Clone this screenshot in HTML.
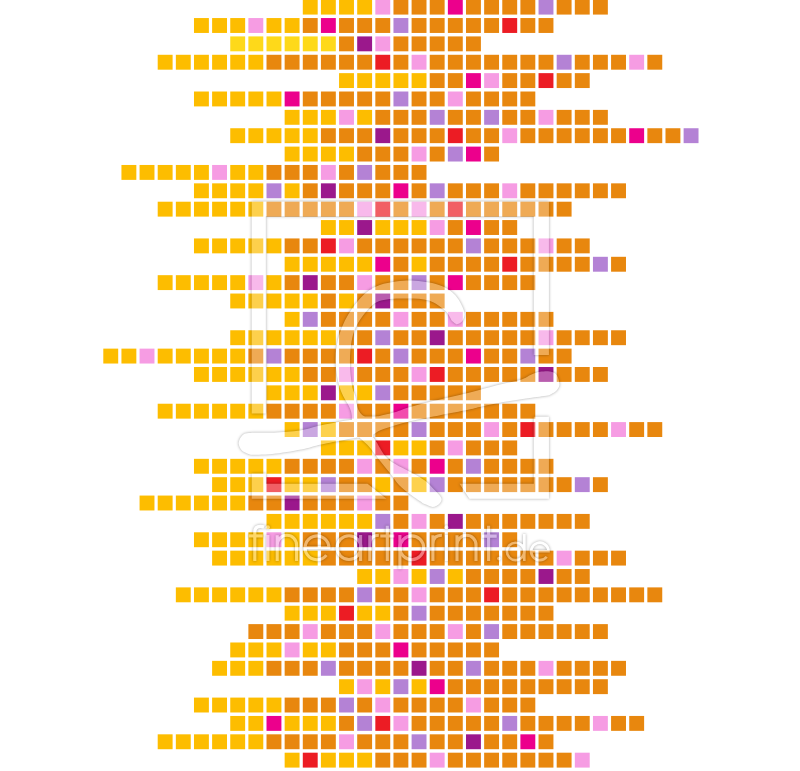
<!DOCTYPE html>
<html><head><meta charset="utf-8"><style>
html,body{margin:0;padding:0;background:#fff;width:800px;height:771px;overflow:hidden;font-family:"Liberation Sans",sans-serif;}
svg{display:block}
</style></head><body>
<svg width="800" height="771" viewBox="0 0 800 771">
<rect width="800" height="771" fill="#fff"/>
<rect x="302.79" y="-0.32" width="14.9" height="14.9" fill="#FDBD00"/>
<rect x="320.92" y="-0.32" width="14.9" height="14.9" fill="#FDBD00"/>
<rect x="339.06" y="-0.32" width="14.9" height="14.9" fill="#FDBD00"/>
<rect x="357.19" y="-0.32" width="14.9" height="14.9" fill="#FDBD00"/>
<rect x="375.33" y="-0.32" width="14.9" height="14.9" fill="#F69CE3"/>
<rect x="393.46" y="-0.32" width="14.9" height="14.9" fill="#E8870E"/>
<rect x="411.60" y="-0.32" width="14.9" height="14.9" fill="#E8870E"/>
<rect x="429.73" y="-0.32" width="14.9" height="14.9" fill="#E8870E"/>
<rect x="447.87" y="-0.32" width="14.9" height="14.9" fill="#EC008C"/>
<rect x="466.00" y="-0.32" width="14.9" height="14.9" fill="#E8870E"/>
<rect x="484.14" y="-0.32" width="14.9" height="14.9" fill="#E8870E"/>
<rect x="502.27" y="-0.32" width="14.9" height="14.9" fill="#E8870E"/>
<rect x="520.40" y="-0.32" width="14.9" height="14.9" fill="#E8870E"/>
<rect x="538.54" y="-0.32" width="14.9" height="14.9" fill="#B482D5"/>
<rect x="556.68" y="-0.32" width="14.9" height="14.9" fill="#E8870E"/>
<rect x="574.81" y="-0.32" width="14.9" height="14.9" fill="#E8870E"/>
<rect x="592.95" y="-0.32" width="14.9" height="14.9" fill="#E8870E"/>
<rect x="193.98" y="18.05" width="14.9" height="14.9" fill="#FDBD00"/>
<rect x="212.11" y="18.05" width="14.9" height="14.9" fill="#FDBD00"/>
<rect x="230.25" y="18.05" width="14.9" height="14.9" fill="#FDBD00"/>
<rect x="248.38" y="18.05" width="14.9" height="14.9" fill="#F69CE3"/>
<rect x="266.51" y="18.05" width="14.9" height="14.9" fill="#FDBD00"/>
<rect x="284.65" y="18.05" width="14.9" height="14.9" fill="#FDBD00"/>
<rect x="302.79" y="18.05" width="14.9" height="14.9" fill="#E8870E"/>
<rect x="320.92" y="18.05" width="14.9" height="14.9" fill="#EC008C"/>
<rect x="339.06" y="18.05" width="14.9" height="14.9" fill="#E8870E"/>
<rect x="357.19" y="18.05" width="14.9" height="14.9" fill="#E8870E"/>
<rect x="375.33" y="18.05" width="14.9" height="14.9" fill="#E8870E"/>
<rect x="393.46" y="18.05" width="14.9" height="14.9" fill="#B482D5"/>
<rect x="411.60" y="18.05" width="14.9" height="14.9" fill="#E8870E"/>
<rect x="429.73" y="18.05" width="14.9" height="14.9" fill="#E8870E"/>
<rect x="447.87" y="18.05" width="14.9" height="14.9" fill="#E8870E"/>
<rect x="466.00" y="18.05" width="14.9" height="14.9" fill="#E8870E"/>
<rect x="484.14" y="18.05" width="14.9" height="14.9" fill="#E8870E"/>
<rect x="502.27" y="18.05" width="14.9" height="14.9" fill="#EC1C24"/>
<rect x="520.40" y="18.05" width="14.9" height="14.9" fill="#E8870E"/>
<rect x="538.54" y="18.05" width="14.9" height="14.9" fill="#E8870E"/>
<rect x="230.25" y="36.41" width="14.9" height="14.9" fill="#FED91A"/>
<rect x="248.38" y="36.41" width="14.9" height="14.9" fill="#FED91A"/>
<rect x="266.51" y="36.41" width="14.9" height="14.9" fill="#FED91A"/>
<rect x="284.65" y="36.41" width="14.9" height="14.9" fill="#FED91A"/>
<rect x="302.79" y="36.41" width="14.9" height="14.9" fill="#FED91A"/>
<rect x="320.92" y="36.41" width="14.9" height="14.9" fill="#FED91A"/>
<rect x="339.06" y="36.41" width="14.9" height="14.9" fill="#E8870E"/>
<rect x="357.19" y="36.41" width="14.9" height="14.9" fill="#9B188C"/>
<rect x="375.33" y="36.41" width="14.9" height="14.9" fill="#F69CE3"/>
<rect x="393.46" y="36.41" width="14.9" height="14.9" fill="#E8870E"/>
<rect x="411.60" y="36.41" width="14.9" height="14.9" fill="#E8870E"/>
<rect x="429.73" y="36.41" width="14.9" height="14.9" fill="#E8870E"/>
<rect x="447.87" y="36.41" width="14.9" height="14.9" fill="#E8870E"/>
<rect x="466.00" y="36.41" width="14.9" height="14.9" fill="#E8870E"/>
<rect x="157.70" y="54.78" width="14.9" height="14.9" fill="#FDBD00"/>
<rect x="175.84" y="54.78" width="14.9" height="14.9" fill="#FDBD00"/>
<rect x="193.98" y="54.78" width="14.9" height="14.9" fill="#FDBD00"/>
<rect x="212.11" y="54.78" width="14.9" height="14.9" fill="#FDBD00"/>
<rect x="230.25" y="54.78" width="14.9" height="14.9" fill="#FDBD00"/>
<rect x="248.38" y="54.78" width="14.9" height="14.9" fill="#FDBD00"/>
<rect x="266.51" y="54.78" width="14.9" height="14.9" fill="#E8870E"/>
<rect x="284.65" y="54.78" width="14.9" height="14.9" fill="#E8870E"/>
<rect x="302.79" y="54.78" width="14.9" height="14.9" fill="#E8870E"/>
<rect x="320.92" y="54.78" width="14.9" height="14.9" fill="#E8870E"/>
<rect x="339.06" y="54.78" width="14.9" height="14.9" fill="#E8870E"/>
<rect x="357.19" y="54.78" width="14.9" height="14.9" fill="#E8870E"/>
<rect x="375.33" y="54.78" width="14.9" height="14.9" fill="#EC1C24"/>
<rect x="393.46" y="54.78" width="14.9" height="14.9" fill="#E8870E"/>
<rect x="411.60" y="54.78" width="14.9" height="14.9" fill="#F69CE3"/>
<rect x="429.73" y="54.78" width="14.9" height="14.9" fill="#E8870E"/>
<rect x="447.87" y="54.78" width="14.9" height="14.9" fill="#E8870E"/>
<rect x="466.00" y="54.78" width="14.9" height="14.9" fill="#E8870E"/>
<rect x="484.14" y="54.78" width="14.9" height="14.9" fill="#E8870E"/>
<rect x="502.27" y="54.78" width="14.9" height="14.9" fill="#E8870E"/>
<rect x="520.40" y="54.78" width="14.9" height="14.9" fill="#E8870E"/>
<rect x="538.54" y="54.78" width="14.9" height="14.9" fill="#E8870E"/>
<rect x="556.68" y="54.78" width="14.9" height="14.9" fill="#B482D5"/>
<rect x="574.81" y="54.78" width="14.9" height="14.9" fill="#E8870E"/>
<rect x="592.95" y="54.78" width="14.9" height="14.9" fill="#E8870E"/>
<rect x="611.08" y="54.78" width="14.9" height="14.9" fill="#E8870E"/>
<rect x="629.22" y="54.78" width="14.9" height="14.9" fill="#F69CE3"/>
<rect x="647.35" y="54.78" width="14.9" height="14.9" fill="#E8870E"/>
<rect x="339.06" y="73.14" width="14.9" height="14.9" fill="#FDBD00"/>
<rect x="357.19" y="73.14" width="14.9" height="14.9" fill="#FDBD00"/>
<rect x="375.33" y="73.14" width="14.9" height="14.9" fill="#FDBD00"/>
<rect x="393.46" y="73.14" width="14.9" height="14.9" fill="#FDBD00"/>
<rect x="411.60" y="73.14" width="14.9" height="14.9" fill="#FDBD00"/>
<rect x="429.73" y="73.14" width="14.9" height="14.9" fill="#E8870E"/>
<rect x="447.87" y="73.14" width="14.9" height="14.9" fill="#E8870E"/>
<rect x="466.00" y="73.14" width="14.9" height="14.9" fill="#EC008C"/>
<rect x="484.14" y="73.14" width="14.9" height="14.9" fill="#F69CE3"/>
<rect x="502.27" y="73.14" width="14.9" height="14.9" fill="#E8870E"/>
<rect x="520.40" y="73.14" width="14.9" height="14.9" fill="#E8870E"/>
<rect x="538.54" y="73.14" width="14.9" height="14.9" fill="#EC1C24"/>
<rect x="556.68" y="73.14" width="14.9" height="14.9" fill="#E8870E"/>
<rect x="574.81" y="73.14" width="14.9" height="14.9" fill="#E8870E"/>
<rect x="193.98" y="91.51" width="14.9" height="14.9" fill="#FDBD00"/>
<rect x="212.11" y="91.51" width="14.9" height="14.9" fill="#FDBD00"/>
<rect x="230.25" y="91.51" width="14.9" height="14.9" fill="#FDBD00"/>
<rect x="248.38" y="91.51" width="14.9" height="14.9" fill="#FDBD00"/>
<rect x="266.51" y="91.51" width="14.9" height="14.9" fill="#FDBD00"/>
<rect x="284.65" y="91.51" width="14.9" height="14.9" fill="#EC008C"/>
<rect x="302.79" y="91.51" width="14.9" height="14.9" fill="#E8870E"/>
<rect x="320.92" y="91.51" width="14.9" height="14.9" fill="#E8870E"/>
<rect x="339.06" y="91.51" width="14.9" height="14.9" fill="#E8870E"/>
<rect x="357.19" y="91.51" width="14.9" height="14.9" fill="#E8870E"/>
<rect x="375.33" y="91.51" width="14.9" height="14.9" fill="#E8870E"/>
<rect x="393.46" y="91.51" width="14.9" height="14.9" fill="#B482D5"/>
<rect x="411.60" y="91.51" width="14.9" height="14.9" fill="#E8870E"/>
<rect x="429.73" y="91.51" width="14.9" height="14.9" fill="#E8870E"/>
<rect x="447.87" y="91.51" width="14.9" height="14.9" fill="#F69CE3"/>
<rect x="466.00" y="91.51" width="14.9" height="14.9" fill="#E8870E"/>
<rect x="484.14" y="91.51" width="14.9" height="14.9" fill="#E8870E"/>
<rect x="502.27" y="91.51" width="14.9" height="14.9" fill="#E8870E"/>
<rect x="520.40" y="91.51" width="14.9" height="14.9" fill="#E8870E"/>
<rect x="284.65" y="109.88" width="14.9" height="14.9" fill="#FDBD00"/>
<rect x="302.79" y="109.88" width="14.9" height="14.9" fill="#FDBD00"/>
<rect x="320.92" y="109.88" width="14.9" height="14.9" fill="#FDBD00"/>
<rect x="339.06" y="109.88" width="14.9" height="14.9" fill="#F69CE3"/>
<rect x="357.19" y="109.88" width="14.9" height="14.9" fill="#FDBD00"/>
<rect x="375.33" y="109.88" width="14.9" height="14.9" fill="#E8870E"/>
<rect x="393.46" y="109.88" width="14.9" height="14.9" fill="#E8870E"/>
<rect x="411.60" y="109.88" width="14.9" height="14.9" fill="#E8870E"/>
<rect x="429.73" y="109.88" width="14.9" height="14.9" fill="#B482D5"/>
<rect x="447.87" y="109.88" width="14.9" height="14.9" fill="#E8870E"/>
<rect x="466.00" y="109.88" width="14.9" height="14.9" fill="#E8870E"/>
<rect x="484.14" y="109.88" width="14.9" height="14.9" fill="#B482D5"/>
<rect x="502.27" y="109.88" width="14.9" height="14.9" fill="#E8870E"/>
<rect x="520.40" y="109.88" width="14.9" height="14.9" fill="#E8870E"/>
<rect x="538.54" y="109.88" width="14.9" height="14.9" fill="#F69CE3"/>
<rect x="556.68" y="109.88" width="14.9" height="14.9" fill="#E8870E"/>
<rect x="574.81" y="109.88" width="14.9" height="14.9" fill="#E8870E"/>
<rect x="592.95" y="109.88" width="14.9" height="14.9" fill="#E8870E"/>
<rect x="230.25" y="128.24" width="14.9" height="14.9" fill="#FDBD00"/>
<rect x="248.38" y="128.24" width="14.9" height="14.9" fill="#FDBD00"/>
<rect x="266.51" y="128.24" width="14.9" height="14.9" fill="#FDBD00"/>
<rect x="284.65" y="128.24" width="14.9" height="14.9" fill="#FDBD00"/>
<rect x="302.79" y="128.24" width="14.9" height="14.9" fill="#FDBD00"/>
<rect x="320.92" y="128.24" width="14.9" height="14.9" fill="#E8870E"/>
<rect x="339.06" y="128.24" width="14.9" height="14.9" fill="#E8870E"/>
<rect x="357.19" y="128.24" width="14.9" height="14.9" fill="#E8870E"/>
<rect x="375.33" y="128.24" width="14.9" height="14.9" fill="#9B188C"/>
<rect x="393.46" y="128.24" width="14.9" height="14.9" fill="#E8870E"/>
<rect x="411.60" y="128.24" width="14.9" height="14.9" fill="#E8870E"/>
<rect x="429.73" y="128.24" width="14.9" height="14.9" fill="#E8870E"/>
<rect x="447.87" y="128.24" width="14.9" height="14.9" fill="#EC1C24"/>
<rect x="466.00" y="128.24" width="14.9" height="14.9" fill="#E8870E"/>
<rect x="484.14" y="128.24" width="14.9" height="14.9" fill="#E8870E"/>
<rect x="502.27" y="128.24" width="14.9" height="14.9" fill="#F69CE3"/>
<rect x="520.40" y="128.24" width="14.9" height="14.9" fill="#E8870E"/>
<rect x="538.54" y="128.24" width="14.9" height="14.9" fill="#E8870E"/>
<rect x="556.68" y="128.24" width="14.9" height="14.9" fill="#E8870E"/>
<rect x="574.81" y="128.24" width="14.9" height="14.9" fill="#E8870E"/>
<rect x="592.95" y="128.24" width="14.9" height="14.9" fill="#E8870E"/>
<rect x="611.08" y="128.24" width="14.9" height="14.9" fill="#E8870E"/>
<rect x="629.22" y="128.24" width="14.9" height="14.9" fill="#EC008C"/>
<rect x="647.35" y="128.24" width="14.9" height="14.9" fill="#E8870E"/>
<rect x="665.49" y="128.24" width="14.9" height="14.9" fill="#E8870E"/>
<rect x="683.62" y="128.24" width="14.9" height="14.9" fill="#B482D5"/>
<rect x="284.65" y="146.61" width="14.9" height="14.9" fill="#FDBD00"/>
<rect x="302.79" y="146.61" width="14.9" height="14.9" fill="#FDBD00"/>
<rect x="320.92" y="146.61" width="14.9" height="14.9" fill="#FDBD00"/>
<rect x="339.06" y="146.61" width="14.9" height="14.9" fill="#FDBD00"/>
<rect x="357.19" y="146.61" width="14.9" height="14.9" fill="#E8870E"/>
<rect x="375.33" y="146.61" width="14.9" height="14.9" fill="#E8870E"/>
<rect x="393.46" y="146.61" width="14.9" height="14.9" fill="#E8870E"/>
<rect x="411.60" y="146.61" width="14.9" height="14.9" fill="#F69CE3"/>
<rect x="429.73" y="146.61" width="14.9" height="14.9" fill="#E8870E"/>
<rect x="447.87" y="146.61" width="14.9" height="14.9" fill="#B482D5"/>
<rect x="466.00" y="146.61" width="14.9" height="14.9" fill="#EC008C"/>
<rect x="484.14" y="146.61" width="14.9" height="14.9" fill="#E8870E"/>
<rect x="121.44" y="164.97" width="14.9" height="14.9" fill="#FDBD00"/>
<rect x="139.57" y="164.97" width="14.9" height="14.9" fill="#FDBD00"/>
<rect x="157.70" y="164.97" width="14.9" height="14.9" fill="#FDBD00"/>
<rect x="175.84" y="164.97" width="14.9" height="14.9" fill="#FDBD00"/>
<rect x="193.98" y="164.97" width="14.9" height="14.9" fill="#FDBD00"/>
<rect x="212.11" y="164.97" width="14.9" height="14.9" fill="#F69CE3"/>
<rect x="230.25" y="164.97" width="14.9" height="14.9" fill="#FDBD00"/>
<rect x="248.38" y="164.97" width="14.9" height="14.9" fill="#FDBD00"/>
<rect x="266.51" y="164.97" width="14.9" height="14.9" fill="#E8870E"/>
<rect x="284.65" y="164.97" width="14.9" height="14.9" fill="#E8870E"/>
<rect x="302.79" y="164.97" width="14.9" height="14.9" fill="#E8870E"/>
<rect x="320.92" y="164.97" width="14.9" height="14.9" fill="#F69CE3"/>
<rect x="339.06" y="164.97" width="14.9" height="14.9" fill="#E8870E"/>
<rect x="357.19" y="164.97" width="14.9" height="14.9" fill="#B482D5"/>
<rect x="375.33" y="164.97" width="14.9" height="14.9" fill="#E8870E"/>
<rect x="393.46" y="164.97" width="14.9" height="14.9" fill="#E8870E"/>
<rect x="411.60" y="164.97" width="14.9" height="14.9" fill="#E8870E"/>
<rect x="193.98" y="183.34" width="14.9" height="14.9" fill="#FDBD00"/>
<rect x="212.11" y="183.34" width="14.9" height="14.9" fill="#FDBD00"/>
<rect x="230.25" y="183.34" width="14.9" height="14.9" fill="#FDBD00"/>
<rect x="248.38" y="183.34" width="14.9" height="14.9" fill="#FDBD00"/>
<rect x="266.51" y="183.34" width="14.9" height="14.9" fill="#B482D5"/>
<rect x="284.65" y="183.34" width="14.9" height="14.9" fill="#FDBD00"/>
<rect x="302.79" y="183.34" width="14.9" height="14.9" fill="#E8870E"/>
<rect x="320.92" y="183.34" width="14.9" height="14.9" fill="#9B188C"/>
<rect x="339.06" y="183.34" width="14.9" height="14.9" fill="#E8870E"/>
<rect x="357.19" y="183.34" width="14.9" height="14.9" fill="#E8870E"/>
<rect x="375.33" y="183.34" width="14.9" height="14.9" fill="#E8870E"/>
<rect x="393.46" y="183.34" width="14.9" height="14.9" fill="#EC008C"/>
<rect x="411.60" y="183.34" width="14.9" height="14.9" fill="#E8870E"/>
<rect x="429.73" y="183.34" width="14.9" height="14.9" fill="#B482D5"/>
<rect x="447.87" y="183.34" width="14.9" height="14.9" fill="#E8870E"/>
<rect x="466.00" y="183.34" width="14.9" height="14.9" fill="#E8870E"/>
<rect x="484.14" y="183.34" width="14.9" height="14.9" fill="#E8870E"/>
<rect x="502.27" y="183.34" width="14.9" height="14.9" fill="#F69CE3"/>
<rect x="520.40" y="183.34" width="14.9" height="14.9" fill="#E8870E"/>
<rect x="538.54" y="183.34" width="14.9" height="14.9" fill="#E8870E"/>
<rect x="556.68" y="183.34" width="14.9" height="14.9" fill="#E8870E"/>
<rect x="574.81" y="183.34" width="14.9" height="14.9" fill="#E8870E"/>
<rect x="592.95" y="183.34" width="14.9" height="14.9" fill="#E8870E"/>
<rect x="611.08" y="183.34" width="14.9" height="14.9" fill="#E8870E"/>
<rect x="157.70" y="201.71" width="14.9" height="14.9" fill="#FDBD00"/>
<rect x="175.84" y="201.71" width="14.9" height="14.9" fill="#FDBD00"/>
<rect x="193.98" y="201.71" width="14.9" height="14.9" fill="#FDBD00"/>
<rect x="212.11" y="201.71" width="14.9" height="14.9" fill="#FDBD00"/>
<rect x="230.25" y="201.71" width="14.9" height="14.9" fill="#FDBD00"/>
<rect x="248.38" y="201.71" width="14.9" height="14.9" fill="#FDBD00"/>
<rect x="266.51" y="201.71" width="14.9" height="14.9" fill="#E8870E"/>
<rect x="284.65" y="201.71" width="14.9" height="14.9" fill="#E8870E"/>
<rect x="302.79" y="201.71" width="14.9" height="14.9" fill="#E8870E"/>
<rect x="320.92" y="201.71" width="14.9" height="14.9" fill="#E8870E"/>
<rect x="339.06" y="201.71" width="14.9" height="14.9" fill="#E8870E"/>
<rect x="357.19" y="201.71" width="14.9" height="14.9" fill="#F69CE3"/>
<rect x="375.33" y="201.71" width="14.9" height="14.9" fill="#EC1C24"/>
<rect x="393.46" y="201.71" width="14.9" height="14.9" fill="#E8870E"/>
<rect x="411.60" y="201.71" width="14.9" height="14.9" fill="#F69CE3"/>
<rect x="429.73" y="201.71" width="14.9" height="14.9" fill="#E8870E"/>
<rect x="447.87" y="201.71" width="14.9" height="14.9" fill="#EC1C24"/>
<rect x="466.00" y="201.71" width="14.9" height="14.9" fill="#E8870E"/>
<rect x="484.14" y="201.71" width="14.9" height="14.9" fill="#E8870E"/>
<rect x="502.27" y="201.71" width="14.9" height="14.9" fill="#E8870E"/>
<rect x="520.40" y="201.71" width="14.9" height="14.9" fill="#E8870E"/>
<rect x="538.54" y="201.71" width="14.9" height="14.9" fill="#E8870E"/>
<rect x="556.68" y="201.71" width="14.9" height="14.9" fill="#E8870E"/>
<rect x="320.92" y="220.07" width="14.9" height="14.9" fill="#FDBD00"/>
<rect x="339.06" y="220.07" width="14.9" height="14.9" fill="#FDBD00"/>
<rect x="357.19" y="220.07" width="14.9" height="14.9" fill="#9B188C"/>
<rect x="375.33" y="220.07" width="14.9" height="14.9" fill="#FDBD00"/>
<rect x="393.46" y="220.07" width="14.9" height="14.9" fill="#FDBD00"/>
<rect x="411.60" y="220.07" width="14.9" height="14.9" fill="#FDBD00"/>
<rect x="429.73" y="220.07" width="14.9" height="14.9" fill="#F69CE3"/>
<rect x="447.87" y="220.07" width="14.9" height="14.9" fill="#E8870E"/>
<rect x="466.00" y="220.07" width="14.9" height="14.9" fill="#EC008C"/>
<rect x="484.14" y="220.07" width="14.9" height="14.9" fill="#E8870E"/>
<rect x="502.27" y="220.07" width="14.9" height="14.9" fill="#E8870E"/>
<rect x="193.98" y="238.44" width="14.9" height="14.9" fill="#FDBD00"/>
<rect x="212.11" y="238.44" width="14.9" height="14.9" fill="#FDBD00"/>
<rect x="230.25" y="238.44" width="14.9" height="14.9" fill="#FDBD00"/>
<rect x="248.38" y="238.44" width="14.9" height="14.9" fill="#FDBD00"/>
<rect x="266.51" y="238.44" width="14.9" height="14.9" fill="#FDBD00"/>
<rect x="284.65" y="238.44" width="14.9" height="14.9" fill="#E8870E"/>
<rect x="302.79" y="238.44" width="14.9" height="14.9" fill="#E8870E"/>
<rect x="320.92" y="238.44" width="14.9" height="14.9" fill="#EC1C24"/>
<rect x="339.06" y="238.44" width="14.9" height="14.9" fill="#F69CE3"/>
<rect x="357.19" y="238.44" width="14.9" height="14.9" fill="#E8870E"/>
<rect x="375.33" y="238.44" width="14.9" height="14.9" fill="#E8870E"/>
<rect x="393.46" y="238.44" width="14.9" height="14.9" fill="#E8870E"/>
<rect x="411.60" y="238.44" width="14.9" height="14.9" fill="#E8870E"/>
<rect x="429.73" y="238.44" width="14.9" height="14.9" fill="#E8870E"/>
<rect x="447.87" y="238.44" width="14.9" height="14.9" fill="#E8870E"/>
<rect x="466.00" y="238.44" width="14.9" height="14.9" fill="#B482D5"/>
<rect x="484.14" y="238.44" width="14.9" height="14.9" fill="#E8870E"/>
<rect x="502.27" y="238.44" width="14.9" height="14.9" fill="#E8870E"/>
<rect x="520.40" y="238.44" width="14.9" height="14.9" fill="#E8870E"/>
<rect x="538.54" y="238.44" width="14.9" height="14.9" fill="#F69CE3"/>
<rect x="556.68" y="238.44" width="14.9" height="14.9" fill="#E8870E"/>
<rect x="574.81" y="238.44" width="14.9" height="14.9" fill="#E8870E"/>
<rect x="284.65" y="256.80" width="14.9" height="14.9" fill="#FDBD00"/>
<rect x="302.79" y="256.80" width="14.9" height="14.9" fill="#FDBD00"/>
<rect x="320.92" y="256.80" width="14.9" height="14.9" fill="#FDBD00"/>
<rect x="339.06" y="256.80" width="14.9" height="14.9" fill="#FDBD00"/>
<rect x="357.19" y="256.80" width="14.9" height="14.9" fill="#FDBD00"/>
<rect x="375.33" y="256.80" width="14.9" height="14.9" fill="#EC008C"/>
<rect x="393.46" y="256.80" width="14.9" height="14.9" fill="#E8870E"/>
<rect x="411.60" y="256.80" width="14.9" height="14.9" fill="#FDBD00"/>
<rect x="429.73" y="256.80" width="14.9" height="14.9" fill="#E8870E"/>
<rect x="447.87" y="256.80" width="14.9" height="14.9" fill="#E8870E"/>
<rect x="466.00" y="256.80" width="14.9" height="14.9" fill="#E8870E"/>
<rect x="484.14" y="256.80" width="14.9" height="14.9" fill="#E8870E"/>
<rect x="502.27" y="256.80" width="14.9" height="14.9" fill="#EC1C24"/>
<rect x="520.40" y="256.80" width="14.9" height="14.9" fill="#E8870E"/>
<rect x="538.54" y="256.80" width="14.9" height="14.9" fill="#E8870E"/>
<rect x="556.68" y="256.80" width="14.9" height="14.9" fill="#E8870E"/>
<rect x="574.81" y="256.80" width="14.9" height="14.9" fill="#E8870E"/>
<rect x="592.95" y="256.80" width="14.9" height="14.9" fill="#B482D5"/>
<rect x="611.08" y="256.80" width="14.9" height="14.9" fill="#E8870E"/>
<rect x="157.70" y="275.17" width="14.9" height="14.9" fill="#FDBD00"/>
<rect x="175.84" y="275.17" width="14.9" height="14.9" fill="#FDBD00"/>
<rect x="193.98" y="275.17" width="14.9" height="14.9" fill="#FDBD00"/>
<rect x="212.11" y="275.17" width="14.9" height="14.9" fill="#FDBD00"/>
<rect x="230.25" y="275.17" width="14.9" height="14.9" fill="#FDBD00"/>
<rect x="248.38" y="275.17" width="14.9" height="14.9" fill="#F69CE3"/>
<rect x="266.51" y="275.17" width="14.9" height="14.9" fill="#FDBD00"/>
<rect x="284.65" y="275.17" width="14.9" height="14.9" fill="#E8870E"/>
<rect x="302.79" y="275.17" width="14.9" height="14.9" fill="#9B188C"/>
<rect x="320.92" y="275.17" width="14.9" height="14.9" fill="#E8870E"/>
<rect x="339.06" y="275.17" width="14.9" height="14.9" fill="#E8870E"/>
<rect x="357.19" y="275.17" width="14.9" height="14.9" fill="#F69CE3"/>
<rect x="375.33" y="275.17" width="14.9" height="14.9" fill="#E8870E"/>
<rect x="393.46" y="275.17" width="14.9" height="14.9" fill="#E8870E"/>
<rect x="411.60" y="275.17" width="14.9" height="14.9" fill="#B482D5"/>
<rect x="429.73" y="275.17" width="14.9" height="14.9" fill="#E8870E"/>
<rect x="447.87" y="275.17" width="14.9" height="14.9" fill="#EC008C"/>
<rect x="466.00" y="275.17" width="14.9" height="14.9" fill="#E8870E"/>
<rect x="484.14" y="275.17" width="14.9" height="14.9" fill="#E8870E"/>
<rect x="502.27" y="275.17" width="14.9" height="14.9" fill="#E8870E"/>
<rect x="520.40" y="275.17" width="14.9" height="14.9" fill="#E8870E"/>
<rect x="230.25" y="293.54" width="14.9" height="14.9" fill="#FDBD00"/>
<rect x="248.38" y="293.54" width="14.9" height="14.9" fill="#FDBD00"/>
<rect x="266.51" y="293.54" width="14.9" height="14.9" fill="#FDBD00"/>
<rect x="284.65" y="293.54" width="14.9" height="14.9" fill="#FDBD00"/>
<rect x="302.79" y="293.54" width="14.9" height="14.9" fill="#FDBD00"/>
<rect x="320.92" y="293.54" width="14.9" height="14.9" fill="#E8870E"/>
<rect x="339.06" y="293.54" width="14.9" height="14.9" fill="#FDBD00"/>
<rect x="357.19" y="293.54" width="14.9" height="14.9" fill="#E8870E"/>
<rect x="375.33" y="293.54" width="14.9" height="14.9" fill="#9B188C"/>
<rect x="393.46" y="293.54" width="14.9" height="14.9" fill="#E8870E"/>
<rect x="411.60" y="293.54" width="14.9" height="14.9" fill="#E8870E"/>
<rect x="429.73" y="293.54" width="14.9" height="14.9" fill="#E8870E"/>
<rect x="284.65" y="311.90" width="14.9" height="14.9" fill="#FDBD00"/>
<rect x="302.79" y="311.90" width="14.9" height="14.9" fill="#B482D5"/>
<rect x="320.92" y="311.90" width="14.9" height="14.9" fill="#E8870E"/>
<rect x="339.06" y="311.90" width="14.9" height="14.9" fill="#E8870E"/>
<rect x="357.19" y="311.90" width="14.9" height="14.9" fill="#E8870E"/>
<rect x="375.33" y="311.90" width="14.9" height="14.9" fill="#E8870E"/>
<rect x="393.46" y="311.90" width="14.9" height="14.9" fill="#F69CE3"/>
<rect x="411.60" y="311.90" width="14.9" height="14.9" fill="#E8870E"/>
<rect x="429.73" y="311.90" width="14.9" height="14.9" fill="#E8870E"/>
<rect x="447.87" y="311.90" width="14.9" height="14.9" fill="#F69CE3"/>
<rect x="466.00" y="311.90" width="14.9" height="14.9" fill="#E8870E"/>
<rect x="484.14" y="311.90" width="14.9" height="14.9" fill="#E8870E"/>
<rect x="502.27" y="311.90" width="14.9" height="14.9" fill="#E8870E"/>
<rect x="520.40" y="311.90" width="14.9" height="14.9" fill="#E8870E"/>
<rect x="538.54" y="311.90" width="14.9" height="14.9" fill="#E8870E"/>
<rect x="230.25" y="330.27" width="14.9" height="14.9" fill="#FDBD00"/>
<rect x="248.38" y="330.27" width="14.9" height="14.9" fill="#FDBD00"/>
<rect x="266.51" y="330.27" width="14.9" height="14.9" fill="#FDBD00"/>
<rect x="284.65" y="330.27" width="14.9" height="14.9" fill="#FDBD00"/>
<rect x="302.79" y="330.27" width="14.9" height="14.9" fill="#FDBD00"/>
<rect x="320.92" y="330.27" width="14.9" height="14.9" fill="#FDBD00"/>
<rect x="339.06" y="330.27" width="14.9" height="14.9" fill="#E8870E"/>
<rect x="357.19" y="330.27" width="14.9" height="14.9" fill="#E8870E"/>
<rect x="375.33" y="330.27" width="14.9" height="14.9" fill="#B482D5"/>
<rect x="393.46" y="330.27" width="14.9" height="14.9" fill="#E8870E"/>
<rect x="411.60" y="330.27" width="14.9" height="14.9" fill="#E8870E"/>
<rect x="429.73" y="330.27" width="14.9" height="14.9" fill="#9B188C"/>
<rect x="447.87" y="330.27" width="14.9" height="14.9" fill="#E8870E"/>
<rect x="466.00" y="330.27" width="14.9" height="14.9" fill="#E8870E"/>
<rect x="484.14" y="330.27" width="14.9" height="14.9" fill="#E8870E"/>
<rect x="502.27" y="330.27" width="14.9" height="14.9" fill="#E8870E"/>
<rect x="520.40" y="330.27" width="14.9" height="14.9" fill="#E8870E"/>
<rect x="538.54" y="330.27" width="14.9" height="14.9" fill="#F69CE3"/>
<rect x="556.68" y="330.27" width="14.9" height="14.9" fill="#E8870E"/>
<rect x="574.81" y="330.27" width="14.9" height="14.9" fill="#E8870E"/>
<rect x="592.95" y="330.27" width="14.9" height="14.9" fill="#E8870E"/>
<rect x="611.08" y="330.27" width="14.9" height="14.9" fill="#E8870E"/>
<rect x="103.30" y="348.63" width="14.9" height="14.9" fill="#FDBD00"/>
<rect x="121.44" y="348.63" width="14.9" height="14.9" fill="#FDBD00"/>
<rect x="139.57" y="348.63" width="14.9" height="14.9" fill="#F69CE3"/>
<rect x="157.70" y="348.63" width="14.9" height="14.9" fill="#FDBD00"/>
<rect x="175.84" y="348.63" width="14.9" height="14.9" fill="#FDBD00"/>
<rect x="193.98" y="348.63" width="14.9" height="14.9" fill="#FDBD00"/>
<rect x="212.11" y="348.63" width="14.9" height="14.9" fill="#FDBD00"/>
<rect x="230.25" y="348.63" width="14.9" height="14.9" fill="#FDBD00"/>
<rect x="248.38" y="348.63" width="14.9" height="14.9" fill="#E8870E"/>
<rect x="266.51" y="348.63" width="14.9" height="14.9" fill="#B482D5"/>
<rect x="284.65" y="348.63" width="14.9" height="14.9" fill="#E8870E"/>
<rect x="302.79" y="348.63" width="14.9" height="14.9" fill="#E8870E"/>
<rect x="320.92" y="348.63" width="14.9" height="14.9" fill="#E8870E"/>
<rect x="339.06" y="348.63" width="14.9" height="14.9" fill="#E8870E"/>
<rect x="357.19" y="348.63" width="14.9" height="14.9" fill="#EC1C24"/>
<rect x="375.33" y="348.63" width="14.9" height="14.9" fill="#E8870E"/>
<rect x="393.46" y="348.63" width="14.9" height="14.9" fill="#B482D5"/>
<rect x="411.60" y="348.63" width="14.9" height="14.9" fill="#E8870E"/>
<rect x="429.73" y="348.63" width="14.9" height="14.9" fill="#E8870E"/>
<rect x="447.87" y="348.63" width="14.9" height="14.9" fill="#E8870E"/>
<rect x="466.00" y="348.63" width="14.9" height="14.9" fill="#EC008C"/>
<rect x="484.14" y="348.63" width="14.9" height="14.9" fill="#E8870E"/>
<rect x="502.27" y="348.63" width="14.9" height="14.9" fill="#E8870E"/>
<rect x="520.40" y="348.63" width="14.9" height="14.9" fill="#B482D5"/>
<rect x="538.54" y="348.63" width="14.9" height="14.9" fill="#E8870E"/>
<rect x="556.68" y="348.63" width="14.9" height="14.9" fill="#E8870E"/>
<rect x="193.98" y="367.00" width="14.9" height="14.9" fill="#FDBD00"/>
<rect x="212.11" y="367.00" width="14.9" height="14.9" fill="#FDBD00"/>
<rect x="230.25" y="367.00" width="14.9" height="14.9" fill="#FDBD00"/>
<rect x="248.38" y="367.00" width="14.9" height="14.9" fill="#FDBD00"/>
<rect x="266.51" y="367.00" width="14.9" height="14.9" fill="#FDBD00"/>
<rect x="284.65" y="367.00" width="14.9" height="14.9" fill="#FDBD00"/>
<rect x="302.79" y="367.00" width="14.9" height="14.9" fill="#E8870E"/>
<rect x="320.92" y="367.00" width="14.9" height="14.9" fill="#E8870E"/>
<rect x="339.06" y="367.00" width="14.9" height="14.9" fill="#F69CE3"/>
<rect x="357.19" y="367.00" width="14.9" height="14.9" fill="#E8870E"/>
<rect x="375.33" y="367.00" width="14.9" height="14.9" fill="#E8870E"/>
<rect x="393.46" y="367.00" width="14.9" height="14.9" fill="#E8870E"/>
<rect x="411.60" y="367.00" width="14.9" height="14.9" fill="#F69CE3"/>
<rect x="429.73" y="367.00" width="14.9" height="14.9" fill="#EC1C24"/>
<rect x="447.87" y="367.00" width="14.9" height="14.9" fill="#E8870E"/>
<rect x="466.00" y="367.00" width="14.9" height="14.9" fill="#E8870E"/>
<rect x="484.14" y="367.00" width="14.9" height="14.9" fill="#E8870E"/>
<rect x="502.27" y="367.00" width="14.9" height="14.9" fill="#E8870E"/>
<rect x="520.40" y="367.00" width="14.9" height="14.9" fill="#E8870E"/>
<rect x="538.54" y="367.00" width="14.9" height="14.9" fill="#9B188C"/>
<rect x="556.68" y="367.00" width="14.9" height="14.9" fill="#E8870E"/>
<rect x="574.81" y="367.00" width="14.9" height="14.9" fill="#E8870E"/>
<rect x="592.95" y="367.00" width="14.9" height="14.9" fill="#E8870E"/>
<rect x="266.51" y="385.37" width="14.9" height="14.9" fill="#FDBD00"/>
<rect x="284.65" y="385.37" width="14.9" height="14.9" fill="#FDBD00"/>
<rect x="302.79" y="385.37" width="14.9" height="14.9" fill="#FDBD00"/>
<rect x="320.92" y="385.37" width="14.9" height="14.9" fill="#9B188C"/>
<rect x="339.06" y="385.37" width="14.9" height="14.9" fill="#FDBD00"/>
<rect x="357.19" y="385.37" width="14.9" height="14.9" fill="#FDBD00"/>
<rect x="375.33" y="385.37" width="14.9" height="14.9" fill="#B482D5"/>
<rect x="393.46" y="385.37" width="14.9" height="14.9" fill="#E8870E"/>
<rect x="411.60" y="385.37" width="14.9" height="14.9" fill="#E8870E"/>
<rect x="429.73" y="385.37" width="14.9" height="14.9" fill="#E8870E"/>
<rect x="447.87" y="385.37" width="14.9" height="14.9" fill="#E8870E"/>
<rect x="466.00" y="385.37" width="14.9" height="14.9" fill="#E8870E"/>
<rect x="157.70" y="403.73" width="14.9" height="14.9" fill="#FDBD00"/>
<rect x="175.84" y="403.73" width="14.9" height="14.9" fill="#FDBD00"/>
<rect x="193.98" y="403.73" width="14.9" height="14.9" fill="#FDBD00"/>
<rect x="212.11" y="403.73" width="14.9" height="14.9" fill="#FDBD00"/>
<rect x="230.25" y="403.73" width="14.9" height="14.9" fill="#FDBD00"/>
<rect x="248.38" y="403.73" width="14.9" height="14.9" fill="#FDBD00"/>
<rect x="266.51" y="403.73" width="14.9" height="14.9" fill="#E8870E"/>
<rect x="284.65" y="403.73" width="14.9" height="14.9" fill="#E8870E"/>
<rect x="302.79" y="403.73" width="14.9" height="14.9" fill="#E8870E"/>
<rect x="320.92" y="403.73" width="14.9" height="14.9" fill="#E8870E"/>
<rect x="339.06" y="403.73" width="14.9" height="14.9" fill="#F69CE3"/>
<rect x="357.19" y="403.73" width="14.9" height="14.9" fill="#E8870E"/>
<rect x="375.33" y="403.73" width="14.9" height="14.9" fill="#E8870E"/>
<rect x="393.46" y="403.73" width="14.9" height="14.9" fill="#EC008C"/>
<rect x="411.60" y="403.73" width="14.9" height="14.9" fill="#E8870E"/>
<rect x="429.73" y="403.73" width="14.9" height="14.9" fill="#E8870E"/>
<rect x="447.87" y="403.73" width="14.9" height="14.9" fill="#E8870E"/>
<rect x="466.00" y="403.73" width="14.9" height="14.9" fill="#E8870E"/>
<rect x="484.14" y="403.73" width="14.9" height="14.9" fill="#E8870E"/>
<rect x="502.27" y="403.73" width="14.9" height="14.9" fill="#E8870E"/>
<rect x="520.40" y="403.73" width="14.9" height="14.9" fill="#E8870E"/>
<rect x="284.65" y="422.10" width="14.9" height="14.9" fill="#FDBD00"/>
<rect x="302.79" y="422.10" width="14.9" height="14.9" fill="#B482D5"/>
<rect x="320.92" y="422.10" width="14.9" height="14.9" fill="#FDBD00"/>
<rect x="339.06" y="422.10" width="14.9" height="14.9" fill="#E8870E"/>
<rect x="357.19" y="422.10" width="14.9" height="14.9" fill="#E8870E"/>
<rect x="375.33" y="422.10" width="14.9" height="14.9" fill="#E8870E"/>
<rect x="393.46" y="422.10" width="14.9" height="14.9" fill="#E8870E"/>
<rect x="411.60" y="422.10" width="14.9" height="14.9" fill="#B482D5"/>
<rect x="429.73" y="422.10" width="14.9" height="14.9" fill="#E8870E"/>
<rect x="447.87" y="422.10" width="14.9" height="14.9" fill="#E8870E"/>
<rect x="466.00" y="422.10" width="14.9" height="14.9" fill="#E8870E"/>
<rect x="484.14" y="422.10" width="14.9" height="14.9" fill="#F69CE3"/>
<rect x="502.27" y="422.10" width="14.9" height="14.9" fill="#E8870E"/>
<rect x="520.40" y="422.10" width="14.9" height="14.9" fill="#EC1C24"/>
<rect x="538.54" y="422.10" width="14.9" height="14.9" fill="#E8870E"/>
<rect x="556.68" y="422.10" width="14.9" height="14.9" fill="#E8870E"/>
<rect x="574.81" y="422.10" width="14.9" height="14.9" fill="#E8870E"/>
<rect x="592.95" y="422.10" width="14.9" height="14.9" fill="#E8870E"/>
<rect x="611.08" y="422.10" width="14.9" height="14.9" fill="#F69CE3"/>
<rect x="629.22" y="422.10" width="14.9" height="14.9" fill="#E8870E"/>
<rect x="647.35" y="422.10" width="14.9" height="14.9" fill="#E8870E"/>
<rect x="320.92" y="440.46" width="14.9" height="14.9" fill="#FDBD00"/>
<rect x="339.06" y="440.46" width="14.9" height="14.9" fill="#FDBD00"/>
<rect x="357.19" y="440.46" width="14.9" height="14.9" fill="#FDBD00"/>
<rect x="375.33" y="440.46" width="14.9" height="14.9" fill="#EC1C24"/>
<rect x="393.46" y="440.46" width="14.9" height="14.9" fill="#FDBD00"/>
<rect x="411.60" y="440.46" width="14.9" height="14.9" fill="#FDBD00"/>
<rect x="429.73" y="440.46" width="14.9" height="14.9" fill="#E8870E"/>
<rect x="447.87" y="440.46" width="14.9" height="14.9" fill="#F69CE3"/>
<rect x="466.00" y="440.46" width="14.9" height="14.9" fill="#E8870E"/>
<rect x="484.14" y="440.46" width="14.9" height="14.9" fill="#E8870E"/>
<rect x="502.27" y="440.46" width="14.9" height="14.9" fill="#E8870E"/>
<rect x="193.98" y="458.83" width="14.9" height="14.9" fill="#FDBD00"/>
<rect x="212.11" y="458.83" width="14.9" height="14.9" fill="#FDBD00"/>
<rect x="230.25" y="458.83" width="14.9" height="14.9" fill="#FDBD00"/>
<rect x="248.38" y="458.83" width="14.9" height="14.9" fill="#FDBD00"/>
<rect x="266.51" y="458.83" width="14.9" height="14.9" fill="#FDBD00"/>
<rect x="284.65" y="458.83" width="14.9" height="14.9" fill="#E8870E"/>
<rect x="302.79" y="458.83" width="14.9" height="14.9" fill="#E8870E"/>
<rect x="320.92" y="458.83" width="14.9" height="14.9" fill="#E8870E"/>
<rect x="339.06" y="458.83" width="14.9" height="14.9" fill="#E8870E"/>
<rect x="357.19" y="458.83" width="14.9" height="14.9" fill="#F69CE3"/>
<rect x="375.33" y="458.83" width="14.9" height="14.9" fill="#E8870E"/>
<rect x="393.46" y="458.83" width="14.9" height="14.9" fill="#F69CE3"/>
<rect x="411.60" y="458.83" width="14.9" height="14.9" fill="#E8870E"/>
<rect x="429.73" y="458.83" width="14.9" height="14.9" fill="#EC008C"/>
<rect x="447.87" y="458.83" width="14.9" height="14.9" fill="#E8870E"/>
<rect x="466.00" y="458.83" width="14.9" height="14.9" fill="#B482D5"/>
<rect x="484.14" y="458.83" width="14.9" height="14.9" fill="#E8870E"/>
<rect x="502.27" y="458.83" width="14.9" height="14.9" fill="#E8870E"/>
<rect x="520.40" y="458.83" width="14.9" height="14.9" fill="#E8870E"/>
<rect x="538.54" y="458.83" width="14.9" height="14.9" fill="#E8870E"/>
<rect x="212.11" y="477.20" width="14.9" height="14.9" fill="#FDBD00"/>
<rect x="230.25" y="477.20" width="14.9" height="14.9" fill="#FDBD00"/>
<rect x="248.38" y="477.20" width="14.9" height="14.9" fill="#FDBD00"/>
<rect x="266.51" y="477.20" width="14.9" height="14.9" fill="#EC1C24"/>
<rect x="284.65" y="477.20" width="14.9" height="14.9" fill="#FDBD00"/>
<rect x="302.79" y="477.20" width="14.9" height="14.9" fill="#FDBD00"/>
<rect x="320.92" y="477.20" width="14.9" height="14.9" fill="#B482D5"/>
<rect x="339.06" y="477.20" width="14.9" height="14.9" fill="#E8870E"/>
<rect x="357.19" y="477.20" width="14.9" height="14.9" fill="#E8870E"/>
<rect x="375.33" y="477.20" width="14.9" height="14.9" fill="#FDBD00"/>
<rect x="393.46" y="477.20" width="14.9" height="14.9" fill="#E8870E"/>
<rect x="411.60" y="477.20" width="14.9" height="14.9" fill="#FDBD00"/>
<rect x="429.73" y="477.20" width="14.9" height="14.9" fill="#B482D5"/>
<rect x="447.87" y="477.20" width="14.9" height="14.9" fill="#E8870E"/>
<rect x="466.00" y="477.20" width="14.9" height="14.9" fill="#E8870E"/>
<rect x="484.14" y="477.20" width="14.9" height="14.9" fill="#E8870E"/>
<rect x="502.27" y="477.20" width="14.9" height="14.9" fill="#E8870E"/>
<rect x="520.40" y="477.20" width="14.9" height="14.9" fill="#E8870E"/>
<rect x="538.54" y="477.20" width="14.9" height="14.9" fill="#E8870E"/>
<rect x="556.68" y="477.20" width="14.9" height="14.9" fill="#E8870E"/>
<rect x="574.81" y="477.20" width="14.9" height="14.9" fill="#B482D5"/>
<rect x="592.95" y="477.20" width="14.9" height="14.9" fill="#E8870E"/>
<rect x="139.57" y="495.56" width="14.9" height="14.9" fill="#FDBD00"/>
<rect x="157.70" y="495.56" width="14.9" height="14.9" fill="#FDBD00"/>
<rect x="175.84" y="495.56" width="14.9" height="14.9" fill="#FDBD00"/>
<rect x="193.98" y="495.56" width="14.9" height="14.9" fill="#FDBD00"/>
<rect x="212.11" y="495.56" width="14.9" height="14.9" fill="#FDBD00"/>
<rect x="230.25" y="495.56" width="14.9" height="14.9" fill="#FDBD00"/>
<rect x="248.38" y="495.56" width="14.9" height="14.9" fill="#E8870E"/>
<rect x="266.51" y="495.56" width="14.9" height="14.9" fill="#E8870E"/>
<rect x="284.65" y="495.56" width="14.9" height="14.9" fill="#9B188C"/>
<rect x="302.79" y="495.56" width="14.9" height="14.9" fill="#E8870E"/>
<rect x="320.92" y="495.56" width="14.9" height="14.9" fill="#E8870E"/>
<rect x="339.06" y="495.56" width="14.9" height="14.9" fill="#E8870E"/>
<rect x="357.19" y="495.56" width="14.9" height="14.9" fill="#F69CE3"/>
<rect x="375.33" y="495.56" width="14.9" height="14.9" fill="#E8870E"/>
<rect x="393.46" y="495.56" width="14.9" height="14.9" fill="#E8870E"/>
<rect x="266.51" y="513.93" width="14.9" height="14.9" fill="#FDBD00"/>
<rect x="284.65" y="513.93" width="14.9" height="14.9" fill="#FDBD00"/>
<rect x="302.79" y="513.93" width="14.9" height="14.9" fill="#FDBD00"/>
<rect x="320.92" y="513.93" width="14.9" height="14.9" fill="#FDBD00"/>
<rect x="339.06" y="513.93" width="14.9" height="14.9" fill="#FDBD00"/>
<rect x="357.19" y="513.93" width="14.9" height="14.9" fill="#FDBD00"/>
<rect x="375.33" y="513.93" width="14.9" height="14.9" fill="#B482D5"/>
<rect x="393.46" y="513.93" width="14.9" height="14.9" fill="#E8870E"/>
<rect x="411.60" y="513.93" width="14.9" height="14.9" fill="#F69CE3"/>
<rect x="429.73" y="513.93" width="14.9" height="14.9" fill="#E8870E"/>
<rect x="447.87" y="513.93" width="14.9" height="14.9" fill="#9B188C"/>
<rect x="466.00" y="513.93" width="14.9" height="14.9" fill="#E8870E"/>
<rect x="484.14" y="513.93" width="14.9" height="14.9" fill="#E8870E"/>
<rect x="502.27" y="513.93" width="14.9" height="14.9" fill="#E8870E"/>
<rect x="520.40" y="513.93" width="14.9" height="14.9" fill="#E8870E"/>
<rect x="538.54" y="513.93" width="14.9" height="14.9" fill="#E8870E"/>
<rect x="556.68" y="513.93" width="14.9" height="14.9" fill="#E8870E"/>
<rect x="574.81" y="513.93" width="14.9" height="14.9" fill="#E8870E"/>
<rect x="193.98" y="532.29" width="14.9" height="14.9" fill="#FDBD00"/>
<rect x="212.11" y="532.29" width="14.9" height="14.9" fill="#FDBD00"/>
<rect x="230.25" y="532.29" width="14.9" height="14.9" fill="#FDBD00"/>
<rect x="248.38" y="532.29" width="14.9" height="14.9" fill="#FDBD00"/>
<rect x="266.51" y="532.29" width="14.9" height="14.9" fill="#F69CE3"/>
<rect x="284.65" y="532.29" width="14.9" height="14.9" fill="#FDBD00"/>
<rect x="302.79" y="532.29" width="14.9" height="14.9" fill="#E8870E"/>
<rect x="320.92" y="532.29" width="14.9" height="14.9" fill="#E8870E"/>
<rect x="339.06" y="532.29" width="14.9" height="14.9" fill="#E8870E"/>
<rect x="357.19" y="532.29" width="14.9" height="14.9" fill="#9B188C"/>
<rect x="375.33" y="532.29" width="14.9" height="14.9" fill="#E8870E"/>
<rect x="393.46" y="532.29" width="14.9" height="14.9" fill="#EC008C"/>
<rect x="411.60" y="532.29" width="14.9" height="14.9" fill="#E8870E"/>
<rect x="429.73" y="532.29" width="14.9" height="14.9" fill="#E8870E"/>
<rect x="447.87" y="532.29" width="14.9" height="14.9" fill="#E8870E"/>
<rect x="466.00" y="532.29" width="14.9" height="14.9" fill="#E8870E"/>
<rect x="484.14" y="532.29" width="14.9" height="14.9" fill="#B482D5"/>
<rect x="502.27" y="532.29" width="14.9" height="14.9" fill="#E8870E"/>
<rect x="212.11" y="550.66" width="14.9" height="14.9" fill="#FDBD00"/>
<rect x="230.25" y="550.66" width="14.9" height="14.9" fill="#FDBD00"/>
<rect x="248.38" y="550.66" width="14.9" height="14.9" fill="#FDBD00"/>
<rect x="266.51" y="550.66" width="14.9" height="14.9" fill="#FDBD00"/>
<rect x="284.65" y="550.66" width="14.9" height="14.9" fill="#FDBD00"/>
<rect x="302.79" y="550.66" width="14.9" height="14.9" fill="#FDBD00"/>
<rect x="320.92" y="550.66" width="14.9" height="14.9" fill="#E8870E"/>
<rect x="339.06" y="550.66" width="14.9" height="14.9" fill="#E8870E"/>
<rect x="357.19" y="550.66" width="14.9" height="14.9" fill="#E8870E"/>
<rect x="375.33" y="550.66" width="14.9" height="14.9" fill="#E8870E"/>
<rect x="393.46" y="550.66" width="14.9" height="14.9" fill="#E8870E"/>
<rect x="411.60" y="550.66" width="14.9" height="14.9" fill="#EC1C24"/>
<rect x="429.73" y="550.66" width="14.9" height="14.9" fill="#E8870E"/>
<rect x="447.87" y="550.66" width="14.9" height="14.9" fill="#E8870E"/>
<rect x="466.00" y="550.66" width="14.9" height="14.9" fill="#E8870E"/>
<rect x="484.14" y="550.66" width="14.9" height="14.9" fill="#E8870E"/>
<rect x="502.27" y="550.66" width="14.9" height="14.9" fill="#E8870E"/>
<rect x="520.40" y="550.66" width="14.9" height="14.9" fill="#E8870E"/>
<rect x="538.54" y="550.66" width="14.9" height="14.9" fill="#E8870E"/>
<rect x="556.68" y="550.66" width="14.9" height="14.9" fill="#F69CE3"/>
<rect x="574.81" y="550.66" width="14.9" height="14.9" fill="#E8870E"/>
<rect x="592.95" y="550.66" width="14.9" height="14.9" fill="#E8870E"/>
<rect x="611.08" y="550.66" width="14.9" height="14.9" fill="#E8870E"/>
<rect x="357.19" y="569.03" width="14.9" height="14.9" fill="#FDBD00"/>
<rect x="375.33" y="569.03" width="14.9" height="14.9" fill="#FDBD00"/>
<rect x="393.46" y="569.03" width="14.9" height="14.9" fill="#F69CE3"/>
<rect x="411.60" y="569.03" width="14.9" height="14.9" fill="#FDBD00"/>
<rect x="429.73" y="569.03" width="14.9" height="14.9" fill="#B482D5"/>
<rect x="447.87" y="569.03" width="14.9" height="14.9" fill="#FDBD00"/>
<rect x="466.00" y="569.03" width="14.9" height="14.9" fill="#E8870E"/>
<rect x="484.14" y="569.03" width="14.9" height="14.9" fill="#E8870E"/>
<rect x="502.27" y="569.03" width="14.9" height="14.9" fill="#E8870E"/>
<rect x="520.40" y="569.03" width="14.9" height="14.9" fill="#E8870E"/>
<rect x="538.54" y="569.03" width="14.9" height="14.9" fill="#9B188C"/>
<rect x="556.68" y="569.03" width="14.9" height="14.9" fill="#E8870E"/>
<rect x="574.81" y="569.03" width="14.9" height="14.9" fill="#E8870E"/>
<rect x="175.84" y="587.39" width="14.9" height="14.9" fill="#FDBD00"/>
<rect x="193.98" y="587.39" width="14.9" height="14.9" fill="#FDBD00"/>
<rect x="212.11" y="587.39" width="14.9" height="14.9" fill="#FDBD00"/>
<rect x="230.25" y="587.39" width="14.9" height="14.9" fill="#FDBD00"/>
<rect x="248.38" y="587.39" width="14.9" height="14.9" fill="#FDBD00"/>
<rect x="266.51" y="587.39" width="14.9" height="14.9" fill="#FDBD00"/>
<rect x="284.65" y="587.39" width="14.9" height="14.9" fill="#E8870E"/>
<rect x="302.79" y="587.39" width="14.9" height="14.9" fill="#E8870E"/>
<rect x="320.92" y="587.39" width="14.9" height="14.9" fill="#E8870E"/>
<rect x="339.06" y="587.39" width="14.9" height="14.9" fill="#E8870E"/>
<rect x="357.19" y="587.39" width="14.9" height="14.9" fill="#B482D5"/>
<rect x="375.33" y="587.39" width="14.9" height="14.9" fill="#E8870E"/>
<rect x="393.46" y="587.39" width="14.9" height="14.9" fill="#E8870E"/>
<rect x="411.60" y="587.39" width="14.9" height="14.9" fill="#F69CE3"/>
<rect x="429.73" y="587.39" width="14.9" height="14.9" fill="#E8870E"/>
<rect x="447.87" y="587.39" width="14.9" height="14.9" fill="#E8870E"/>
<rect x="466.00" y="587.39" width="14.9" height="14.9" fill="#E8870E"/>
<rect x="484.14" y="587.39" width="14.9" height="14.9" fill="#EC1C24"/>
<rect x="502.27" y="587.39" width="14.9" height="14.9" fill="#E8870E"/>
<rect x="520.40" y="587.39" width="14.9" height="14.9" fill="#E8870E"/>
<rect x="538.54" y="587.39" width="14.9" height="14.9" fill="#E8870E"/>
<rect x="556.68" y="587.39" width="14.9" height="14.9" fill="#E8870E"/>
<rect x="574.81" y="587.39" width="14.9" height="14.9" fill="#E8870E"/>
<rect x="592.95" y="587.39" width="14.9" height="14.9" fill="#E8870E"/>
<rect x="611.08" y="587.39" width="14.9" height="14.9" fill="#E8870E"/>
<rect x="629.22" y="587.39" width="14.9" height="14.9" fill="#E8870E"/>
<rect x="647.35" y="587.39" width="14.9" height="14.9" fill="#E8870E"/>
<rect x="284.65" y="605.76" width="14.9" height="14.9" fill="#FDBD00"/>
<rect x="302.79" y="605.76" width="14.9" height="14.9" fill="#FDBD00"/>
<rect x="320.92" y="605.76" width="14.9" height="14.9" fill="#FDBD00"/>
<rect x="339.06" y="605.76" width="14.9" height="14.9" fill="#EC1C24"/>
<rect x="357.19" y="605.76" width="14.9" height="14.9" fill="#FDBD00"/>
<rect x="375.33" y="605.76" width="14.9" height="14.9" fill="#FDBD00"/>
<rect x="393.46" y="605.76" width="14.9" height="14.9" fill="#E8870E"/>
<rect x="411.60" y="605.76" width="14.9" height="14.9" fill="#B482D5"/>
<rect x="429.73" y="605.76" width="14.9" height="14.9" fill="#E8870E"/>
<rect x="447.87" y="605.76" width="14.9" height="14.9" fill="#E8870E"/>
<rect x="466.00" y="605.76" width="14.9" height="14.9" fill="#E8870E"/>
<rect x="484.14" y="605.76" width="14.9" height="14.9" fill="#E8870E"/>
<rect x="502.27" y="605.76" width="14.9" height="14.9" fill="#E8870E"/>
<rect x="520.40" y="605.76" width="14.9" height="14.9" fill="#E8870E"/>
<rect x="538.54" y="605.76" width="14.9" height="14.9" fill="#E8870E"/>
<rect x="248.38" y="624.12" width="14.9" height="14.9" fill="#E8870E"/>
<rect x="266.51" y="624.12" width="14.9" height="14.9" fill="#E8870E"/>
<rect x="284.65" y="624.12" width="14.9" height="14.9" fill="#E8870E"/>
<rect x="302.79" y="624.12" width="14.9" height="14.9" fill="#F69CE3"/>
<rect x="320.92" y="624.12" width="14.9" height="14.9" fill="#E8870E"/>
<rect x="339.06" y="624.12" width="14.9" height="14.9" fill="#E8870E"/>
<rect x="357.19" y="624.12" width="14.9" height="14.9" fill="#E8870E"/>
<rect x="375.33" y="624.12" width="14.9" height="14.9" fill="#F69CE3"/>
<rect x="393.46" y="624.12" width="14.9" height="14.9" fill="#E8870E"/>
<rect x="411.60" y="624.12" width="14.9" height="14.9" fill="#E8870E"/>
<rect x="429.73" y="624.12" width="14.9" height="14.9" fill="#E8870E"/>
<rect x="447.87" y="624.12" width="14.9" height="14.9" fill="#F69CE3"/>
<rect x="466.00" y="624.12" width="14.9" height="14.9" fill="#E8870E"/>
<rect x="484.14" y="624.12" width="14.9" height="14.9" fill="#B482D5"/>
<rect x="502.27" y="624.12" width="14.9" height="14.9" fill="#E8870E"/>
<rect x="520.40" y="624.12" width="14.9" height="14.9" fill="#E8870E"/>
<rect x="538.54" y="624.12" width="14.9" height="14.9" fill="#E8870E"/>
<rect x="556.68" y="624.12" width="14.9" height="14.9" fill="#E8870E"/>
<rect x="574.81" y="624.12" width="14.9" height="14.9" fill="#E8870E"/>
<rect x="592.95" y="624.12" width="14.9" height="14.9" fill="#E8870E"/>
<rect x="230.25" y="642.49" width="14.9" height="14.9" fill="#FDBD00"/>
<rect x="248.38" y="642.49" width="14.9" height="14.9" fill="#FDBD00"/>
<rect x="266.51" y="642.49" width="14.9" height="14.9" fill="#FDBD00"/>
<rect x="284.65" y="642.49" width="14.9" height="14.9" fill="#F69CE3"/>
<rect x="302.79" y="642.49" width="14.9" height="14.9" fill="#FDBD00"/>
<rect x="320.92" y="642.49" width="14.9" height="14.9" fill="#FDBD00"/>
<rect x="339.06" y="642.49" width="14.9" height="14.9" fill="#E8870E"/>
<rect x="357.19" y="642.49" width="14.9" height="14.9" fill="#E8870E"/>
<rect x="375.33" y="642.49" width="14.9" height="14.9" fill="#E8870E"/>
<rect x="393.46" y="642.49" width="14.9" height="14.9" fill="#EC008C"/>
<rect x="411.60" y="642.49" width="14.9" height="14.9" fill="#E8870E"/>
<rect x="429.73" y="642.49" width="14.9" height="14.9" fill="#E8870E"/>
<rect x="447.87" y="642.49" width="14.9" height="14.9" fill="#E8870E"/>
<rect x="466.00" y="642.49" width="14.9" height="14.9" fill="#E8870E"/>
<rect x="484.14" y="642.49" width="14.9" height="14.9" fill="#E8870E"/>
<rect x="212.11" y="660.86" width="14.9" height="14.9" fill="#FDBD00"/>
<rect x="230.25" y="660.86" width="14.9" height="14.9" fill="#FDBD00"/>
<rect x="248.38" y="660.86" width="14.9" height="14.9" fill="#FDBD00"/>
<rect x="266.51" y="660.86" width="14.9" height="14.9" fill="#E8870E"/>
<rect x="284.65" y="660.86" width="14.9" height="14.9" fill="#E8870E"/>
<rect x="302.79" y="660.86" width="14.9" height="14.9" fill="#E8870E"/>
<rect x="320.92" y="660.86" width="14.9" height="14.9" fill="#B482D5"/>
<rect x="339.06" y="660.86" width="14.9" height="14.9" fill="#E8870E"/>
<rect x="357.19" y="660.86" width="14.9" height="14.9" fill="#E8870E"/>
<rect x="375.33" y="660.86" width="14.9" height="14.9" fill="#E8870E"/>
<rect x="393.46" y="660.86" width="14.9" height="14.9" fill="#E8870E"/>
<rect x="411.60" y="660.86" width="14.9" height="14.9" fill="#9B188C"/>
<rect x="429.73" y="660.86" width="14.9" height="14.9" fill="#E8870E"/>
<rect x="447.87" y="660.86" width="14.9" height="14.9" fill="#E8870E"/>
<rect x="466.00" y="660.86" width="14.9" height="14.9" fill="#B482D5"/>
<rect x="484.14" y="660.86" width="14.9" height="14.9" fill="#E8870E"/>
<rect x="502.27" y="660.86" width="14.9" height="14.9" fill="#E8870E"/>
<rect x="520.40" y="660.86" width="14.9" height="14.9" fill="#E8870E"/>
<rect x="538.54" y="660.86" width="14.9" height="14.9" fill="#F69CE3"/>
<rect x="556.68" y="660.86" width="14.9" height="14.9" fill="#E8870E"/>
<rect x="574.81" y="660.86" width="14.9" height="14.9" fill="#E8870E"/>
<rect x="592.95" y="660.86" width="14.9" height="14.9" fill="#E8870E"/>
<rect x="611.08" y="660.86" width="14.9" height="14.9" fill="#E8870E"/>
<rect x="339.06" y="679.22" width="14.9" height="14.9" fill="#FDBD00"/>
<rect x="357.19" y="679.22" width="14.9" height="14.9" fill="#F69CE3"/>
<rect x="375.33" y="679.22" width="14.9" height="14.9" fill="#FDBD00"/>
<rect x="393.46" y="679.22" width="14.9" height="14.9" fill="#B482D5"/>
<rect x="411.60" y="679.22" width="14.9" height="14.9" fill="#FDBD00"/>
<rect x="429.73" y="679.22" width="14.9" height="14.9" fill="#EC008C"/>
<rect x="447.87" y="679.22" width="14.9" height="14.9" fill="#E8870E"/>
<rect x="466.00" y="679.22" width="14.9" height="14.9" fill="#E8870E"/>
<rect x="484.14" y="679.22" width="14.9" height="14.9" fill="#E8870E"/>
<rect x="502.27" y="679.22" width="14.9" height="14.9" fill="#E8870E"/>
<rect x="520.40" y="679.22" width="14.9" height="14.9" fill="#E8870E"/>
<rect x="538.54" y="679.22" width="14.9" height="14.9" fill="#E8870E"/>
<rect x="556.68" y="679.22" width="14.9" height="14.9" fill="#E8870E"/>
<rect x="574.81" y="679.22" width="14.9" height="14.9" fill="#E8870E"/>
<rect x="592.95" y="679.22" width="14.9" height="14.9" fill="#E8870E"/>
<rect x="193.98" y="697.59" width="14.9" height="14.9" fill="#FDBD00"/>
<rect x="212.11" y="697.59" width="14.9" height="14.9" fill="#FDBD00"/>
<rect x="230.25" y="697.59" width="14.9" height="14.9" fill="#FDBD00"/>
<rect x="248.38" y="697.59" width="14.9" height="14.9" fill="#FDBD00"/>
<rect x="266.51" y="697.59" width="14.9" height="14.9" fill="#FDBD00"/>
<rect x="284.65" y="697.59" width="14.9" height="14.9" fill="#E8870E"/>
<rect x="302.79" y="697.59" width="14.9" height="14.9" fill="#E8870E"/>
<rect x="320.92" y="697.59" width="14.9" height="14.9" fill="#E8870E"/>
<rect x="339.06" y="697.59" width="14.9" height="14.9" fill="#B482D5"/>
<rect x="357.19" y="697.59" width="14.9" height="14.9" fill="#E8870E"/>
<rect x="375.33" y="697.59" width="14.9" height="14.9" fill="#F69CE3"/>
<rect x="393.46" y="697.59" width="14.9" height="14.9" fill="#E8870E"/>
<rect x="411.60" y="697.59" width="14.9" height="14.9" fill="#E8870E"/>
<rect x="429.73" y="697.59" width="14.9" height="14.9" fill="#E8870E"/>
<rect x="447.87" y="697.59" width="14.9" height="14.9" fill="#E8870E"/>
<rect x="466.00" y="697.59" width="14.9" height="14.9" fill="#F69CE3"/>
<rect x="484.14" y="697.59" width="14.9" height="14.9" fill="#E8870E"/>
<rect x="502.27" y="697.59" width="14.9" height="14.9" fill="#E8870E"/>
<rect x="520.40" y="697.59" width="14.9" height="14.9" fill="#E8870E"/>
<rect x="230.25" y="715.95" width="14.9" height="14.9" fill="#FDBD00"/>
<rect x="248.38" y="715.95" width="14.9" height="14.9" fill="#FDBD00"/>
<rect x="266.51" y="715.95" width="14.9" height="14.9" fill="#EC008C"/>
<rect x="284.65" y="715.95" width="14.9" height="14.9" fill="#FDBD00"/>
<rect x="302.79" y="715.95" width="14.9" height="14.9" fill="#FDBD00"/>
<rect x="320.92" y="715.95" width="14.9" height="14.9" fill="#FDBD00"/>
<rect x="339.06" y="715.95" width="14.9" height="14.9" fill="#E8870E"/>
<rect x="357.19" y="715.95" width="14.9" height="14.9" fill="#B482D5"/>
<rect x="375.33" y="715.95" width="14.9" height="14.9" fill="#EC1C24"/>
<rect x="393.46" y="715.95" width="14.9" height="14.9" fill="#F69CE3"/>
<rect x="411.60" y="715.95" width="14.9" height="14.9" fill="#E8870E"/>
<rect x="429.73" y="715.95" width="14.9" height="14.9" fill="#E8870E"/>
<rect x="447.87" y="715.95" width="14.9" height="14.9" fill="#E8870E"/>
<rect x="466.00" y="715.95" width="14.9" height="14.9" fill="#E8870E"/>
<rect x="484.14" y="715.95" width="14.9" height="14.9" fill="#E8870E"/>
<rect x="502.27" y="715.95" width="14.9" height="14.9" fill="#B482D5"/>
<rect x="520.40" y="715.95" width="14.9" height="14.9" fill="#E8870E"/>
<rect x="538.54" y="715.95" width="14.9" height="14.9" fill="#E8870E"/>
<rect x="556.68" y="715.95" width="14.9" height="14.9" fill="#E8870E"/>
<rect x="574.81" y="715.95" width="14.9" height="14.9" fill="#E8870E"/>
<rect x="592.95" y="715.95" width="14.9" height="14.9" fill="#F69CE3"/>
<rect x="611.08" y="715.95" width="14.9" height="14.9" fill="#E8870E"/>
<rect x="629.22" y="715.95" width="14.9" height="14.9" fill="#E8870E"/>
<rect x="157.70" y="734.32" width="14.9" height="14.9" fill="#FDBD00"/>
<rect x="175.84" y="734.32" width="14.9" height="14.9" fill="#FDBD00"/>
<rect x="193.98" y="734.32" width="14.9" height="14.9" fill="#FDBD00"/>
<rect x="212.11" y="734.32" width="14.9" height="14.9" fill="#FDBD00"/>
<rect x="230.25" y="734.32" width="14.9" height="14.9" fill="#FDBD00"/>
<rect x="248.38" y="734.32" width="14.9" height="14.9" fill="#FDBD00"/>
<rect x="266.51" y="734.32" width="14.9" height="14.9" fill="#E8870E"/>
<rect x="284.65" y="734.32" width="14.9" height="14.9" fill="#E8870E"/>
<rect x="302.79" y="734.32" width="14.9" height="14.9" fill="#E8870E"/>
<rect x="320.92" y="734.32" width="14.9" height="14.9" fill="#E8870E"/>
<rect x="339.06" y="734.32" width="14.9" height="14.9" fill="#F69CE3"/>
<rect x="357.19" y="734.32" width="14.9" height="14.9" fill="#E8870E"/>
<rect x="375.33" y="734.32" width="14.9" height="14.9" fill="#E8870E"/>
<rect x="393.46" y="734.32" width="14.9" height="14.9" fill="#E8870E"/>
<rect x="411.60" y="734.32" width="14.9" height="14.9" fill="#B482D5"/>
<rect x="429.73" y="734.32" width="14.9" height="14.9" fill="#E8870E"/>
<rect x="447.87" y="734.32" width="14.9" height="14.9" fill="#E8870E"/>
<rect x="466.00" y="734.32" width="14.9" height="14.9" fill="#9B188C"/>
<rect x="484.14" y="734.32" width="14.9" height="14.9" fill="#E8870E"/>
<rect x="502.27" y="734.32" width="14.9" height="14.9" fill="#E8870E"/>
<rect x="520.40" y="734.32" width="14.9" height="14.9" fill="#EC008C"/>
<rect x="538.54" y="734.32" width="14.9" height="14.9" fill="#E8870E"/>
<rect x="284.65" y="752.69" width="14.9" height="14.9" fill="#FDBD00"/>
<rect x="302.79" y="752.69" width="14.9" height="14.9" fill="#EC1C24"/>
<rect x="320.92" y="752.69" width="14.9" height="14.9" fill="#FDBD00"/>
<rect x="339.06" y="752.69" width="14.9" height="14.9" fill="#FDBD00"/>
<rect x="357.19" y="752.69" width="14.9" height="14.9" fill="#FDBD00"/>
<rect x="375.33" y="752.69" width="14.9" height="14.9" fill="#E8870E"/>
<rect x="393.46" y="752.69" width="14.9" height="14.9" fill="#E8870E"/>
<rect x="411.60" y="752.69" width="14.9" height="14.9" fill="#E8870E"/>
<rect x="429.73" y="752.69" width="14.9" height="14.9" fill="#F69CE3"/>
<rect x="447.87" y="752.69" width="14.9" height="14.9" fill="#E8870E"/>
<rect x="466.00" y="752.69" width="14.9" height="14.9" fill="#E8870E"/>
<rect x="484.14" y="752.69" width="14.9" height="14.9" fill="#E8870E"/>
<rect x="502.27" y="752.69" width="14.9" height="14.9" fill="#E8870E"/>
<rect x="520.40" y="752.69" width="14.9" height="14.9" fill="#E8870E"/>
<rect x="538.54" y="752.69" width="14.9" height="14.9" fill="#E8870E"/>
<rect x="556.68" y="752.69" width="14.9" height="14.9" fill="#E8870E"/>
<rect x="574.81" y="752.69" width="14.9" height="14.9" fill="#F69CE3"/>
<defs><filter id="wmA" x="-3%" y="-10%" width="106%" height="120%" color-interpolation-filters="sRGB"><feMorphology in="SourceAlpha" operator="erode" radius="0.8" result="shape"/>
<feGaussianBlur in="shape" stdDeviation="1.5" result="bl"/>
<feComposite in="bl" in2="shape" operator="out" result="edgeb"/>
<feFlood flood-color="#000" flood-opacity="0.36"/>
<feComposite in2="edgeb" operator="in" result="rim"/>
<feFlood flood-color="#fff" flood-opacity="0.3"/>
<feComposite in2="shape" operator="in" result="fill"/>
<feMerge><feMergeNode in="rim"/><feMergeNode in="fill"/></feMerge>
</filter><filter id="wmC" x="-3%" y="-10%" width="106%" height="120%" color-interpolation-filters="sRGB">
<feGaussianBlur in="SourceAlpha" stdDeviation="1.5" result="bl"/>
<feComposite in="bl" in2="SourceAlpha" operator="out" result="edgeb"/>
<feFlood flood-color="#000" flood-opacity="0.36"/>
<feComposite in2="edgeb" operator="in" result="rim"/>
<feFlood flood-color="#fff" flood-opacity="0.3"/>
<feComposite in2="SourceAlpha" operator="in" result="fill"/>
<feMerge><feMergeNode in="rim"/><feMergeNode in="fill"/></feMerge>
</filter><filter id="wmB" x="-3%" y="-10%" width="106%" height="120%" color-interpolation-filters="sRGB">
<feGaussianBlur in="SourceAlpha" stdDeviation="1.5" result="bl"/>
<feComposite in="bl" in2="SourceAlpha" operator="out" result="edgeb"/>
<feFlood flood-color="#000" flood-opacity="0.36"/>
<feComposite in2="edgeb" operator="in" result="rim"/>
<feFlood flood-color="#fff" flood-opacity="0.4"/>
<feComposite in2="SourceAlpha" operator="in" result="fill"/>
<feMerge><feMergeNode in="rim"/><feMergeNode in="fill"/></feMerge>
</filter></defs>
<g filter="url(#wmA)" fill="#fff"><path d="M250,455.8 C248.5,455.1 243.1,453.6 241.0,451.5 C238.9,449.4 237.7,446.2 237.6,443.5 C237.5,440.8 238.8,437.4 240.5,435.5 C242.2,433.6 242.6,432.6 248.0,432.0 C253.4,431.4 264.5,432.1 273.0,431.7 C281.5,431.3 291.8,430.6 299.0,429.5 C306.2,428.4 310.7,426.4 316.0,425.2 C321.3,424.0 326.2,423.2 331.0,422.3 C335.8,421.4 341.7,420.2 345.0,419.6 C348.3,419.0 350.0,418.9 351.0,418.7 C350.7,417.1 351.1,414.4 349.0,409.4 C346.9,404.4 341.1,396.9 338.7,388.6 C336.3,380.3 334.5,368.9 334.5,359.6 C334.5,350.3 335.9,341.2 338.7,332.6 C341.4,324.0 345.5,315.3 351.0,307.7 C356.5,300.1 363.2,291.7 371.9,287.0 C380.6,282.3 392.3,280.4 403.0,279.7 C413.7,279.0 427.3,280.6 436.0,282.8 C444.7,285.0 450.2,288.5 455.0,293.0 C459.8,297.5 463.5,305.3 465.0,310.0 C466.5,314.7 465.3,318.4 464.0,321.0 C462.7,323.6 459.2,325.3 457.0,325.5 C454.8,325.7 452.0,322.6 451.0,322.0 C449.9,320.3 448.3,315.3 444.5,311.9 C440.7,308.5 434.2,303.6 428.0,301.5 C421.8,299.4 414.7,299.4 407.0,299.4 C399.3,299.4 388.6,299.4 382.0,301.5 C375.4,303.6 372.2,306.7 367.7,311.9 C363.2,317.1 357.8,324.7 355.0,332.6 C352.2,340.6 351.3,351.0 351.0,359.6 C350.7,368.2 352.1,378.6 353.0,384.5 C353.9,390.4 355.3,391.2 356.3,395.0 C357.3,398.8 357.6,404.2 358.8,407.5 C360.1,410.8 361.9,413.1 363.8,414.5 C365.7,415.9 367.7,415.5 370.0,415.6 C372.3,415.7 376.2,415.4 377.5,415.3 C380.2,414.6 388.4,412.9 393.8,411.3 C399.2,409.7 402.3,407.9 410.0,405.7 C417.7,403.5 430.0,400.6 440.0,398.2 C450.0,395.8 460.8,393.5 470.0,391.2 C479.2,388.9 486.7,386.5 495.0,384.4 C503.3,382.3 514.2,380.5 520.0,378.7 C525.8,376.9 526.8,375.1 530.0,373.8 C533.2,372.5 535.5,371.3 539.0,370.8 C542.5,370.3 547.8,370.0 551.0,370.6 C554.2,371.2 556.4,372.1 558.0,374.5 C559.6,376.9 560.6,382.2 560.5,385.0 C560.4,387.8 559.2,389.6 557.5,391.5 C555.8,393.4 551.2,395.5 550.0,396.3 C547.1,396.7 539.6,397.8 532.5,398.8 C525.4,399.8 515.8,401.1 507.5,402.5 C499.2,403.9 488.8,406.1 482.5,407.5 C476.2,408.9 477.1,409.1 470.0,410.6 C462.9,412.1 447.1,415.1 440.0,416.5 C432.9,417.9 432.5,417.8 427.5,418.8 C422.5,419.8 415.2,421.2 410.0,422.5 C404.8,423.8 401.1,424.8 396.3,426.3 C391.5,427.8 385.0,429.7 381.3,431.3 C377.6,432.9 375.2,435.2 374.0,436.0 C374.6,436.8 375.5,437.9 377.5,441.0 C379.5,444.1 382.8,450.8 385.8,454.4 C388.8,458.0 390.4,459.4 395.4,462.6 C400.4,465.8 410.7,470.6 416.0,473.6 C421.3,476.6 423.8,478.0 427.0,480.5 C430.2,483.0 432.8,486.1 435.3,488.8 C437.8,491.6 441.2,494.5 442.2,497.0 C443.1,499.5 442.5,502.2 441.0,504.0 C439.5,505.8 436.2,508.0 433.0,508.0 C429.8,508.0 423.4,504.6 421.5,503.9 C419.2,502.3 411.7,497.3 407.8,494.3 C403.9,491.3 401.2,489.4 398.0,486.0 C394.8,482.6 391.9,478.0 388.5,473.6 C385.1,469.2 380.9,464.2 377.5,459.9 C374.1,455.5 371.1,451.1 367.9,447.5 C364.7,443.9 359.9,440.1 358.3,438.6 C356.1,439.0 351.1,439.9 345.0,441.0 C338.9,442.1 329.2,443.9 322.0,445.5 C314.8,447.1 310.2,448.9 302.0,450.5 C293.8,452.1 281.7,454.1 273.0,455.0 C264.3,455.9 253.8,455.7 250.0,455.8 Z"/></g>
<g filter="url(#wmC)" fill="#fff"><path d="M251.7,201.6 H548.9 V216.2 H265.8 V413.5 H251.7 Z"/><path d="M533.8,216 H548.9 V355 H533.8 Z"/><path d="M533.8,416.8 H548.9 V498.7 H469.5 L459.5,483.8 H533.8 Z"/><path d="M251.7,473.6 H265.9 V483.8 H367.5 L386.5,498.7 H251.7 Z"/></g>
<g filter="url(#wmB)">
<g fill="#fff"><circle cx="267.9" cy="527.3" r="2.0"/><circle cx="446.5" cy="527.3" r="2.0"/><circle cx="498.9" cy="558.6" r="1.8"/></g>
<g fill="none" stroke="#fff" stroke-width="3.1"><path d="M254.8,561 V532 C254.8,528.5 257,526.4 260.5,526.4 C262,526.4 263,526.6 264,527"/><path d="M248.7,535.9 H262.8"/><path d="M267.9,535 V561"/><path d="M277.2,535.3 V561 M277.2,545.0 A9.70,9.70 0 0 1 296.6,545.0 V561"/><path d="M305.1,547.8 H328.9 A11.9,11.9 0 1 0 326.4,555.1"/><circle cx="349" cy="547.6" r="11.9"/><path d="M360.6,535 V561"/><path d="M369.8,535.3 V561 M369.8,544.3 C369.8,538.3 373.3,535.3 378.8,535.3"/><path d="M387.3,525.7 V561 M380.3,536 H394.3"/><circle cx="411.8" cy="547.8" r="11.9"/><path d="M399.9,535 V569.2"/><path d="M432.9,535.3 V561 M432.9,544.3 C432.9,538.3 436.4,535.3 441.9,535.3"/><path d="M446.5,535 V561"/><path d="M457,535.3 V561 M457,544.8 A9.5,9.5 0 0 1 476,544.8 V561"/><path d="M488.6,525.8 V561 M481.7,536.1 H496.7"/></g>
<g fill="none" stroke="#fff" stroke-width="2.6"><circle cx="515.6" cy="551.4" r="8.7"/><path d="M524.3,534 V561"/><path d="M531.09,551.3 H548.5 A8.7,8.7 0 1 0 546.7,556.7"/></g>
</g>

</svg>
</body></html>
